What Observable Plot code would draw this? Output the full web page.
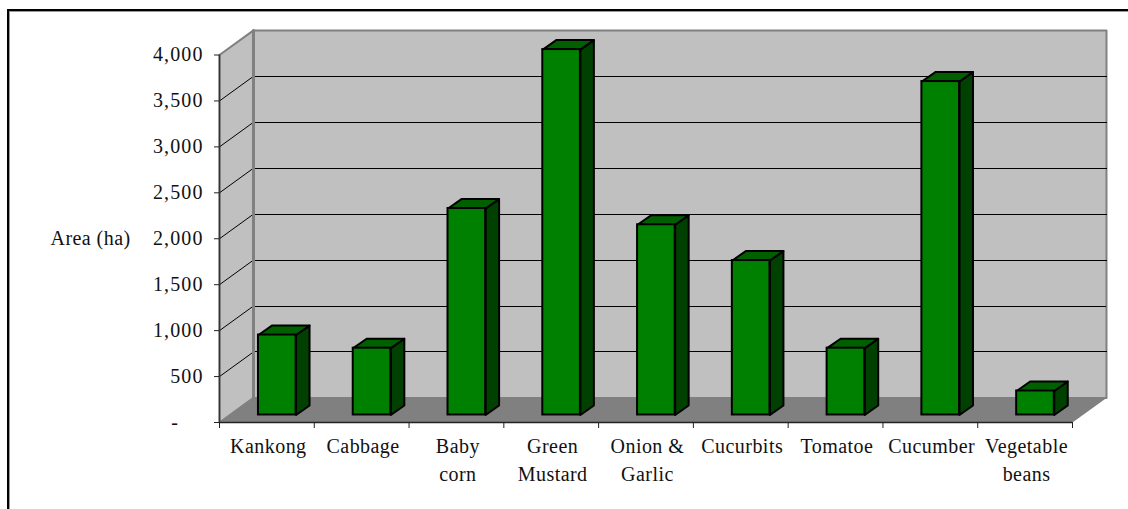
<!DOCTYPE html>
<html>
<head>
<meta charset="utf-8">
<script src="https://cdn.jsdelivr.net/npm/d3@7"></script>
<script src="https://cdn.jsdelivr.net/npm/@observablehq/plot@0.6"></script>
<style>
html,body{margin:0;padding:0;background:#fff;overflow:hidden;width:1128px;height:509px}
#box{position:absolute;left:7px;top:9px;width:1200px;height:600px;border:2px solid #000;box-shadow:1px 1px 0 #999 inset}
#chart{position:absolute;left:0;top:0}
svg{background:transparent!important;display:block}
svg text{letter-spacing:.45px}
svg [aria-label="y-axis tick label"] text, svg [aria-label="y-axis tick label"]{letter-spacing:1.1px}
</style>
</head>
<body>
<div id="box"></div>
<div id="chart"></div>
<script>
const categories = ["Kankong","Cabbage","Baby\ncorn","Green\nMustard","Onion &\nGarlic","Cucurbits","Tomatoe","Cucumber","Vegetable\nbeans"];
const values = [870,727,2247,3977,2070,1681,727,3629,261];
const yTicks = [0,500,1000,1500,2000,2500,3000,3500,4000];
const yTickLabels = ["-\u00a0\u00a0\u00a0\u00a0","500","1,000","1,500","2,000","2,500","3,000","3,500","4,000"];
const yTitle = "Area (ha)";

// Pseudo-3D projection, in the units of the x and y scales
const wallDX = 0.3586, wallDY = 268;   // depth of the walls
const barInset = 0.411, barW = 0.397;  // front face, relative to the category slot
const baseDY = 82;                     // bar foot lifted off the front edge
const sideDX = 0.142, sideDY = 103;    // depth of a bar

const poly = (key, pts) => pts.map(([x,y]) => ({key,x,y}));
const bars = values.map((v,i) => ({v, x1:i+barInset, x2:i+barInset+barW, y1:baseDY, y2:baseDY+v, i}));
const sides = bars.flatMap(b => poly("s"+b.i, [[b.x2,b.y1],[b.x2+sideDX,b.y1+sideDY],[b.x2+sideDX,b.y2+sideDY],[b.x2,b.y2]]));
const tops = bars.flatMap(b => poly("t"+b.i, [[b.x1,b.y2],[b.x1+sideDX,b.y2+sideDY],[b.x2+sideDX,b.y2+sideDY],[b.x2,b.y2]]));
const leftWall = poly("l", [[0,0],[wallDX,wallDY],[wallDX,4000+wallDY],[0,4000]]);
const backWall = poly("b", [[wallDX,wallDY],[9+wallDX,wallDY],[9+wallDX,4000+wallDY],[wallDX,4000+wallDY]]);
const backEdge = poly("e", [[wallDX,wallDY],[wallDX,4000+wallDY]]);
const floor = poly("f", [[0,0],[9,0],[9+wallDX,wallDY],[wallDX,wallDY]]);
const gridTicks = yTicks.slice(1,-1);
const sideGrid = gridTicks.flatMap(t => poly("g"+t, [[0,t],[wallDX,t+wallDY]]));
const backGrid = gridTicks.flatMap(t => poly("g"+t, [[wallDX,t+wallDY],[9+wallDX,t+wallDY]]));
const closed = {x:"x", y:"y", z:"key", curve:"linear-closed"};

const plot = Plot.plot({
  width:1128, height:509,
  marginLeft:219, marginRight:56, marginTop:54.5, marginBottom:87,
  x:{domain:[0,9]}, y:{domain:[0,4000]},
  style:{fontFamily:"'Liberation Serif',serif", background:"transparent", color:"#111"},
  marks:[
    Plot.line(leftWall,{...closed, fill:"#c0c0c0", stroke:"#808080", strokeWidth:2}),
    Plot.line(backWall,{...closed, fill:"#c0c0c0", stroke:"#808080", strokeWidth:2}),
    Plot.line(floor,{...closed, fill:"#808080", stroke:"none"}),
    Plot.line(sideGrid,{x:"x", y:"y", z:"key", stroke:"#000", strokeWidth:1}),
    Plot.line(backGrid,{x:"x", y:"y", z:"key", stroke:"#000", strokeWidth:1, shapeRendering:"crispEdges"}),
    Plot.line(backEdge,{x:"x", y:"y", z:"key", stroke:"#808080", strokeWidth:3}),
    Plot.ruleY([0],{stroke:"#222", strokeWidth:1.5}),
    Plot.ruleX([0],{stroke:"#333", strokeWidth:1.5}),
    Plot.axisY({ticks:yTicks, tickSize:5, tickPadding:11, tickFormat:(d)=>yTickLabels[yTicks.indexOf(d)], fontSize:20, label:null, stroke:"#222"}),
    Plot.axisX({ticks:d3.range(0,10), tickSize:6, tickFormat:()=>"", label:null, stroke:"#222"}),
    Plot.line(sides,{...closed, fill:"#004000", stroke:"#000", strokeWidth:2}),
    Plot.line(tops,{...closed, fill:"#006000", stroke:"#000", strokeWidth:2}),
    Plot.rect(bars,{x1:"x1", x2:"x2", y1:"y1", y2:"y2", fill:"#008000", stroke:"#000", strokeWidth:2}),
    Plot.text(categories,{x:(d,i)=>i+0.515, y:0, text:d=>d, dy:11, lineAnchor:"top", lineHeight:1.38, fontSize:20, fill:"#111"}),
    Plot.text([yTitle],{frameAnchor:"left", y:[2000], dx:-169, textAnchor:"start", fontSize:20, fill:"#111"})
  ]
});
document.getElementById("chart").append(plot);
</script>
</body>
</html>
